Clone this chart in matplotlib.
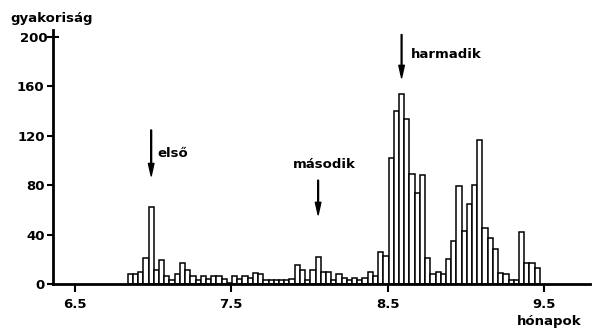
import matplotlib.pyplot as plt
import numpy as np

# daily counts (bin width = 1 day = 1/30 month)
bin_start = 6.84
bin_width = 1 / 30
counts = [8, 8, 10, 21, 62, 11, 19, 6, 3, 8,
          17, 11, 6, 3, 6, 4, 6, 6, 4, 1,
          6, 4, 6, 5, 9, 8, 3, 3, 3, 3,
          3, 4, 15, 11, 3, 11, 22, 10, 10, 3,
          8, 5, 3, 5, 3, 5, 10, 6, 26, 23,
          102, 140, 154, 134, 89, 74, 88, 21, 8, 10,
          8, 20, 35, 79, 43, 65, 80, 117, 45, 37,
          28, 9, 8, 3, 3, 42, 17, 17, 13]

x_ticks = [6.5, 7.5, 8.5, 9.5]
x_ticklabels = ['6.5', '7.5', '8.5', '9.5']
y_ticks = [0, 40, 80, 120, 160]
peaks = {'első': 4, 'második': 36, 'harmadik': 52}   # bin index of each peak

plt.rcParams['font.family'] = ['DejaVu Sans']
fig = plt.figure(figsize=(5.99, 3.34), dpi=100)
ax = fig.add_axes([0.0885, 0.150, 0.8965, 0.760])

lefts = bin_start + np.arange(len(counts)) * bin_width
ax.bar(lefts, counts, width=bin_width, align='edge', facecolor='white',
       edgecolor='black', linewidth=1.1, zorder=2)

ax.set_xlim(6.3626, 9.794)
ax.set_ylim(0, 205.7)

for s in ['top', 'right']:
    ax.spines[s].set_visible(False)
for s in ['left', 'bottom']:
    ax.spines[s].set_linewidth(2)
    ax.spines[s].set_zorder(3)

ax.set_xticks(x_ticks)
ax.set_xticklabels(x_ticklabels, fontsize=9.5, fontweight='bold')
ax.set_yticks(y_ticks)
ax.set_yticklabels([str(v) for v in y_ticks], fontsize=9.5, fontweight='bold')
ax.set_yticks([200], minor=True)
ax.set_yticklabels(['200'], minor=True, fontsize=9.5, fontweight='bold')
ax.tick_params(axis='x', direction='out', length=6, width=1.5, pad=4)
ax.tick_params(axis='y', which='major', direction='out', length=4, width=1.5, pad=2)
ax.tick_params(axis='y', which='minor', direction='inout', length=8, width=1.5, pad=0)

fig.text(0.017, 0.946, 'gyakoriság', fontsize=9.5, fontweight='bold', va='center')
ax.text(9.53, -0.15, 'hónapok', transform=ax.get_xaxis_transform(),
        fontsize=9.5, fontweight='bold', ha='center', va='center')

# arrows pointing at the peaks
arrow = dict(width=0.6, headwidth=4, headlength=9, facecolor='black', edgecolor='black')
px = lefts[peaks['első']] + bin_width / 2
ax.annotate('', xy=(px, 87.5), xytext=(px, 124.7), arrowprops=arrow)
ax.text(px + 0.04, 106, 'első', fontsize=9.5, fontweight='bold', va='center')

px = lefts[peaks['második']] + bin_width / 2
ax.annotate('', xy=(px, 56), xytext=(px, 84), arrowprops=arrow)
ax.text(px + 0.04, 97, 'második', fontsize=9.5, fontweight='bold', ha='center', va='center')

px = lefts[peaks['harmadik']] + bin_width / 2
ax.annotate('', xy=(px, 167), xytext=(px, 202), arrowprops=arrow)
ax.text(px + 0.057, 186, 'harmadik', fontsize=9.5, fontweight='bold', va='center')

fig.savefig('out.png', dpi=100)
